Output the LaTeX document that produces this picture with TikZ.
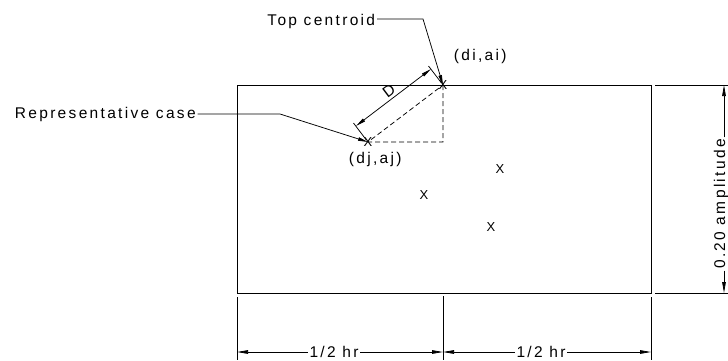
\documentclass[tikz,border=0pt]{standalone}
\usepackage{fontspec}
\setmainfont{Liberation Sans}[LetterSpace=15]
\usetikzlibrary{arrows.meta,calc}
\begin{document}
\begin{tikzpicture}[x=1pt,y=-1pt,line width=0.75pt,
  lbl/.style={font=\fontsize{15.5}{17}\selectfont,inner sep=1.5pt},
  xmark/.style={font=\fontsize{13}{15}\selectfont,inner sep=0pt},
  dimtip/.style={-{Triangle[length=11pt,width=3.6pt]}},
  leader/.style={-{Triangle[length=10pt,width=3.4pt]}},
  dimboth/.style={{Triangle[length=10pt,width=3.4pt]}-{Triangle[length=10pt,width=3.4pt]}},
  dsh/.style={dash pattern=on 5pt off 3pt}]
\useasboundingbox (0,0) rectangle (728,361);
% main rectangle
\coordinate (b1) at (237,85);
\coordinate (b2) at (651,293);
\draw (b1) rectangle (b2);
% points
\coordinate (tc) at (443,85);
\coordinate (rc) at (368,142);
\coordinate (corner) at (443,142);
\draw[dsh] (tc) -- (corner) -- (rc) -- cycle;
\node[xmark] (x1) at (tc) {X};
\node[xmark] (x2) at (rc) {X};
\node[xmark] (x3) at (500,169) {X};
\node[xmark] (x4) at (424,195) {X};
\node[xmark] (x5) at (491,227) {X};
% D dimension
\coordinate (e1a) at (366,139.6);
\coordinate (e1b) at (353.5,123);
\coordinate (e2a) at (441.2,82.6);
\coordinate (e2b) at (428.5,66);
\draw (e1a) -- (e1b);
\draw (e2a) -- (e2b);
\coordinate (d1) at (356,126);
\coordinate (d2) at (431,69);
\draw[dimboth] (d1) -- (d2);
\node[lbl,rotate=37,anchor=south,inner sep=2pt] (dlab) at ($(d1)!0.5!(d2)$) {D};
% leaders
\node[lbl,anchor=base east] (tct) at (377,26) {Top centroid};
\coordinate (tcb) at (423,19);
\draw[leader] (tct.east |- tcb) -- (tcb) -- (tc);
\node[lbl,anchor=base west] (rct) at (13,118) {Representative case};
\coordinate (rcb) at (280,114);
\draw[leader] (rct.east |- rcb) -- (rcb) -- (rc);
% point labels
\node[lbl,anchor=base west] (dia) at (452,60) {(di,ai)};
\node[lbl,anchor=base west] (dja) at (347,163) {(dj,aj)};
% right dimension
\coordinate (rt1) at (655,85);
\coordinate (rt2) at (728,85);
\coordinate (rb1) at (655,293);
\coordinate (rb2) at (728,293);
\draw (rt1) -- (rt2);
\draw (rb1) -- (rb2);
\coordinate (at) at (724,85);
\coordinate (ab) at (724,293);
\node[lbl,rotate=90] (amp) at (721,204) {0.20 amplitude};
\draw[dimtip] (at |- amp.east) -- (at);
\draw[dimtip] (ab |- amp.west) -- (ab);
% bottom dimensions
\coordinate (v1a) at (237,297);
\coordinate (v1b) at (237,360);
\coordinate (v2a) at (443,296);
\coordinate (v2b) at (443,360);
\coordinate (v3a) at (651,297);
\coordinate (v3b) at (651,360);
\draw (v1a) -- (v1b);
\draw (v2a) -- (v2b);
\draw (v3a) -- (v3b);
\coordinate (bl) at (237,352);
\coordinate (bm) at (443,352);
\coordinate (br) at (651,352);
\node[lbl,anchor=base] (h1) at (334,357) {1/2 hr};
\node[lbl,anchor=base] (h2) at (541,357) {1/2 hr};
\draw[dimtip] (h1.west |- bl) -- (bl);
\draw[dimtip] (h1.east |- bl) -- (bm);
\draw[dimtip] (h2.west |- bm) -- (bm);
\draw[dimtip] (h2.east |- bm) -- (br);
\end{tikzpicture}
\end{document}
